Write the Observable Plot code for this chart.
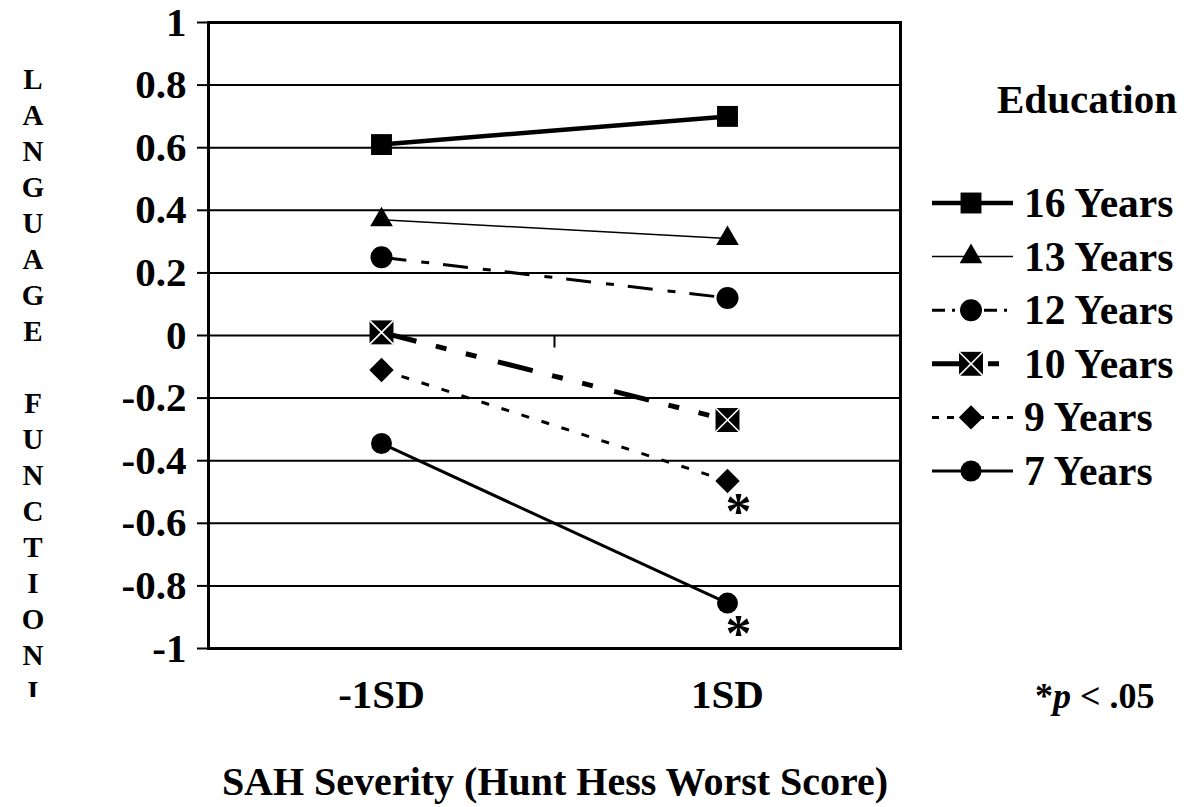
<!DOCTYPE html>
<html><head><meta charset="utf-8">
<script src="https://cdn.jsdelivr.net/npm/d3@7"></script>
<script src="https://cdn.jsdelivr.net/npm/@observablehq/plot@0.6"></script>
<style>html,body{margin:0;padding:0;background:#fff}svg{display:block}</style>
</head><body><div id="chart"></div>
<script>
// ---- data ----
const categories = ["-1SD", "1SD"];
const seriesNames = ["16 Years", "13 Years", "12 Years", "10 Years", "9 Years", "7 Years"];
const valuesAtLow  = [0.61, 0.37, 0.25, 0.01, -0.11, -0.345];
const valuesAtHigh = [0.70, 0.31, 0.12, -0.27, -0.465, -0.855];
const significantSeries = ["9 Years", "7 Years"];
const yTicks = [1, 0.8, 0.6, 0.4, 0.2, 0, -0.2, -0.4, -0.6, -0.8, -1];
const legendTitle = "Education";
const xTitle = "SAH Severity (Hunt Hess Worst Score)";
const yTitle = "LANGUAGE FUNCTIONI";

// ---- styles ----
const styles = {
  "16 Years": {w: 4.5, dash: null, symbol: "square", r: 11.8},
  "13 Years": {w: 1.5, dash: null, symbol: "triangle", r: 8.4},
  "12 Years": {w: 3, dash: "25,15,8,14", legendDash: "13,7,3,9,13,7", symbol: "circle", r: 11},
  "10 Years": {w: 5, dash: "36,20,11,20,11,22", symbol: "square", r: 13.5, cross: true},
  "9 Years":  {w: 3, dash: "8,13", legendDash: "7,8", symbol: "diamond2", r: 11},
  "7 Years":  {w: 3, dash: null, symbol: "circle", r: 10.5}
};
const FONT = "'Liberation Serif', 'Times New Roman', serif";

const rows = seriesNames.flatMap((s, i) => [
  {series: s, x: 0, y: valuesAtLow[i]},
  {series: s, x: 1, y: valuesAtHigh[i]}
]);

const lineMarks = seriesNames.map(s => Plot.line(rows.filter(d => d.series === s), {
  x: "x", y: "y", stroke: "black", strokeWidth: styles[s].w,
  strokeDasharray: styles[s].dash || undefined, strokeLinecap: "butt", strokeLinejoin: "miter"
}));
const dotMarks = seriesNames.flatMap(s => {
  const st = styles[s];
  const data = rows.filter(d => d.series === s);
  const m = [Plot.dot(data, {x: "x", y: "y", symbol: st.symbol, r: st.r, fill: "black", stroke: "none"})];
  if (st.cross) m.push(Plot.dot(data, {x: "x", y: "y", symbol: "times", r: 11, stroke: "white", strokeWidth: 1.6, fill: "none"}));
  return m;
});

const chart = Plot.plot({
  width: 1188, height: 807,
  marginLeft: 208, marginRight: 288, marginTop: 22, marginBottom: 159,
  style: {fontFamily: FONT, background: "white", color: "black"},
  x: {domain: [-0.5, 1.5], axis: null, label: null},
  y: {domain: [-1, 1], axis: null, label: null},
  marks: [
    Plot.ruleY(yTicks, {stroke: "black", strokeWidth: 2}),
    Plot.ruleX([(0 + 1) / 2], {y1: 0, y2: -0.04, stroke: "black", strokeWidth: 2}),
    Plot.frame({stroke: "black", strokeWidth: 3}),
    Plot.axisY({ticks: yTicks, tickFormat: d => String(+d.toFixed(1)), tickSize: 11, tickPadding: 11,
      strokeWidth: 2, fontSize: 41, fontWeight: "bold", fontFamily: FONT, label: null}),
    Plot.axisX({ticks: [0, 1], tickFormat: i => categories[i], tickSize: 0, tickPadding: 30,
      fontSize: 41, fontWeight: "bold", fontFamily: FONT, label: null}),
    ...lineMarks,
    ...dotMarks,
    Plot.text(rows.filter(d => d.x === 1 && significantSeries.includes(d.series)), {
      x: "x", y: "y", text: () => "*", dx: 11, dy: 31, fontSize: 52, fontWeight: "bold", fontFamily: FONT
    })
  ]
});

const svg = d3.select(chart);
// legend
const symMap = {square: d3.symbolSquare, triangle: d3.symbolTriangle, circle: d3.symbolCircle, diamond2: d3.symbolDiamond2, times: d3.symbolTimes};
const lg = svg.append("g").attr("font-family", FONT).attr("font-weight", "bold").attr("text-anchor", "start");
lg.append("text").attr("x", 997).attr("y", 113).attr("font-size", 41).text(legendTitle);
seriesNames.forEach((s, i) => {
  const st = styles[s];
  const cy = 203 + i * 53.6;
  const g = lg.append("g").attr("transform", `translate(0,${cy})`);
  g.append("line").attr("x1", 932).attr("x2", 1013).attr("y1", 0).attr("y2", 0)
    .attr("stroke", "black").attr("stroke-width", st.w)
    .attr("stroke-dasharray", st.legendDash || st.dash || null);
  g.append("path").attr("transform", "translate(971,0)")
    .attr("d", d3.symbol(symMap[st.symbol], st.r * st.r * Math.PI)()).attr("fill", "black");
  if (st.cross) g.append("path").attr("transform", "translate(971,0)")
    .attr("d", d3.symbol(d3.symbolTimes, 11 * 11 * Math.PI)()).attr("fill", "none")
    .attr("stroke", "white").attr("stroke-width", 1.6);
  g.append("text").attr("x", 1024).attr("y", 14).attr("font-size", 41.5).text(s);
});
// footnote
const fn = svg.append("text").attr("x", 1035).attr("y", 708).attr("font-family", FONT)
  .attr("font-weight", "bold").attr("font-size", 36).attr("text-anchor", "start");
fn.append("tspan").text("*");
fn.append("tspan").attr("font-style", "italic").text("p");
fn.append("tspan").text(" < .05");
// x title
svg.append("text").attr("x", 555).attr("y", 795).attr("text-anchor", "middle")
  .attr("font-family", FONT).attr("font-weight", "bold").attr("font-size", 40).text(xTitle);
// y title, stacked letters
const defs = svg.append("defs");
defs.append("clipPath").attr("id", "ytclip").append("rect").attr("x", 0).attr("y", 0).attr("width", 100).attr("height", 697);
const yt = svg.append("g").attr("clip-path", "url(#ytclip)").attr("font-family", FONT)
  .attr("font-weight", "bold").attr("font-size", 29).attr("text-anchor", "middle");
[...yTitle].forEach((ch, k) => {
  if (ch !== " ") yt.append("text").attr("x", 33).attr("y", 79 + 36 * k + 10).text(ch);
});

document.getElementById("chart").appendChild(chart);
</script>
</body></html>
